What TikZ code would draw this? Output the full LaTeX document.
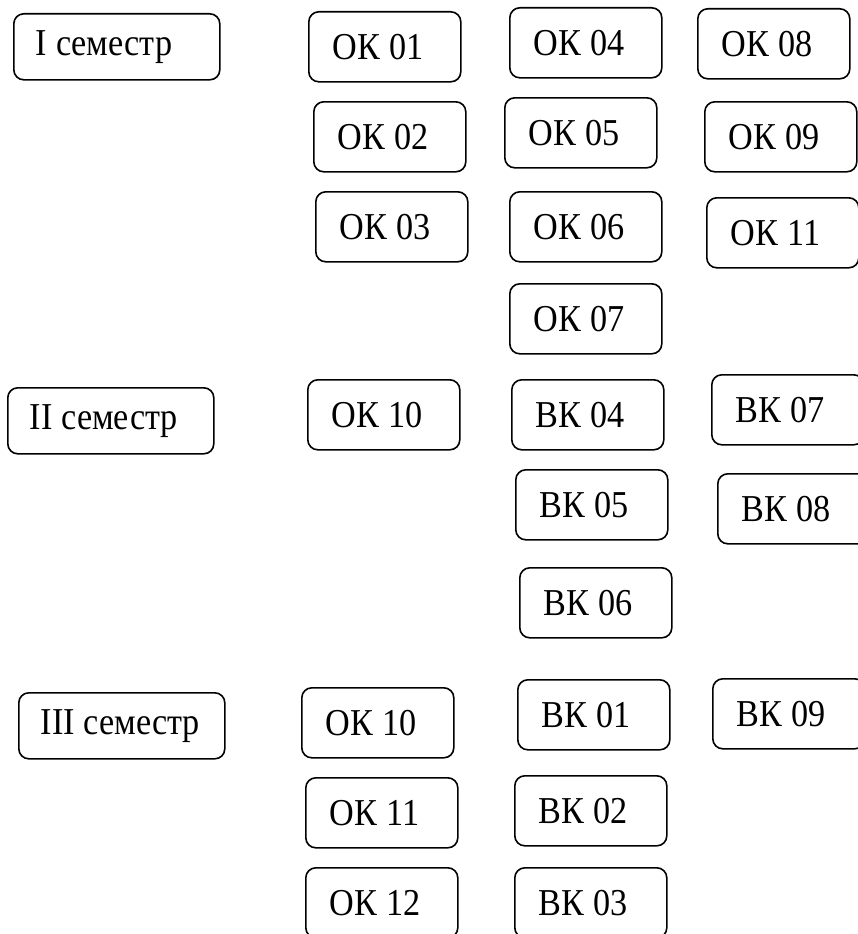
\documentclass[tikz,border=0pt]{standalone}
\usepackage{fontspec}
\setmainfont[FakeStretch=0.9]{Liberation Serif}
\tikzset{
  box/.style={draw, line width=1.6pt, rounded corners=10pt, anchor=north west,
    inner xsep=24pt, inner ysep=0pt, text width=104pt, minimum height=70pt,
    align=left, font=\fontsize{38}{43}\selectfont,
    execute at begin node={\spaceskip=9pt\relax}},
  sembox/.style={box, inner xsep=22pt, text width=162pt, minimum height=66pt}
}
\begin{document}
\begin{tikzpicture}[x=1pt, y=-1pt]
  \useasboundingbox (0,0) rectangle (858,934);
  \clip (0,0) rectangle (858,934);
  \node[sembox] (sem1) at (13,13) {I семестр};
  \node[sembox] (sem2) at (7,387) {II семестр};
  \node[sembox] (sem3) at (18,692) {III семестр};
  \node[box] (ok01) at (308,11) {ОК 01};
  \node[box] (ok02) at (313,101) {ОК 02};
  \node[box] (ok03) at (315,191) {ОК 03};
  \node[box] (ok10a) at (307,379) {ОК 10};
  \node[box] (ok10b) at (301,687) {ОК 10};
  \node[box] (ok11b) at (305,777) {ОК 11};
  \node[box] (ok12) at (305,867) {ОК 12};
  \node[box] (ok04) at (509,7) {ОК 04};
  \node[box] (ok05) at (504,97) {ОК 05};
  \node[box] (ok06) at (509,191) {ОК 06};
  \node[box] (ok07) at (509,283) {ОК 07};
  \node[box] (bk04) at (511,379) {ВК 04};
  \node[box] (bk05) at (515,469) {ВК 05};
  \node[box] (bk06) at (519,567) {ВК 06};
  \node[box] (bk01) at (517,679) {ВК 01};
  \node[box] (bk02) at (514,775) {ВК 02};
  \node[box] (bk03) at (514,867) {ВК 03};
  \node[box] (ok08) at (697,8) {ОК 08};
  \node[box] (ok09) at (704,101) {ОК 09};
  \node[box] (ok11a) at (706,197) {ОК 11};
  \node[box] (bk07) at (711,374) {ВК 07};
  \node[box] (bk08) at (717,473) {ВК 08};
  \node[box] (bk09) at (712,678) {ВК 09};
\end{tikzpicture}
\end{document}
